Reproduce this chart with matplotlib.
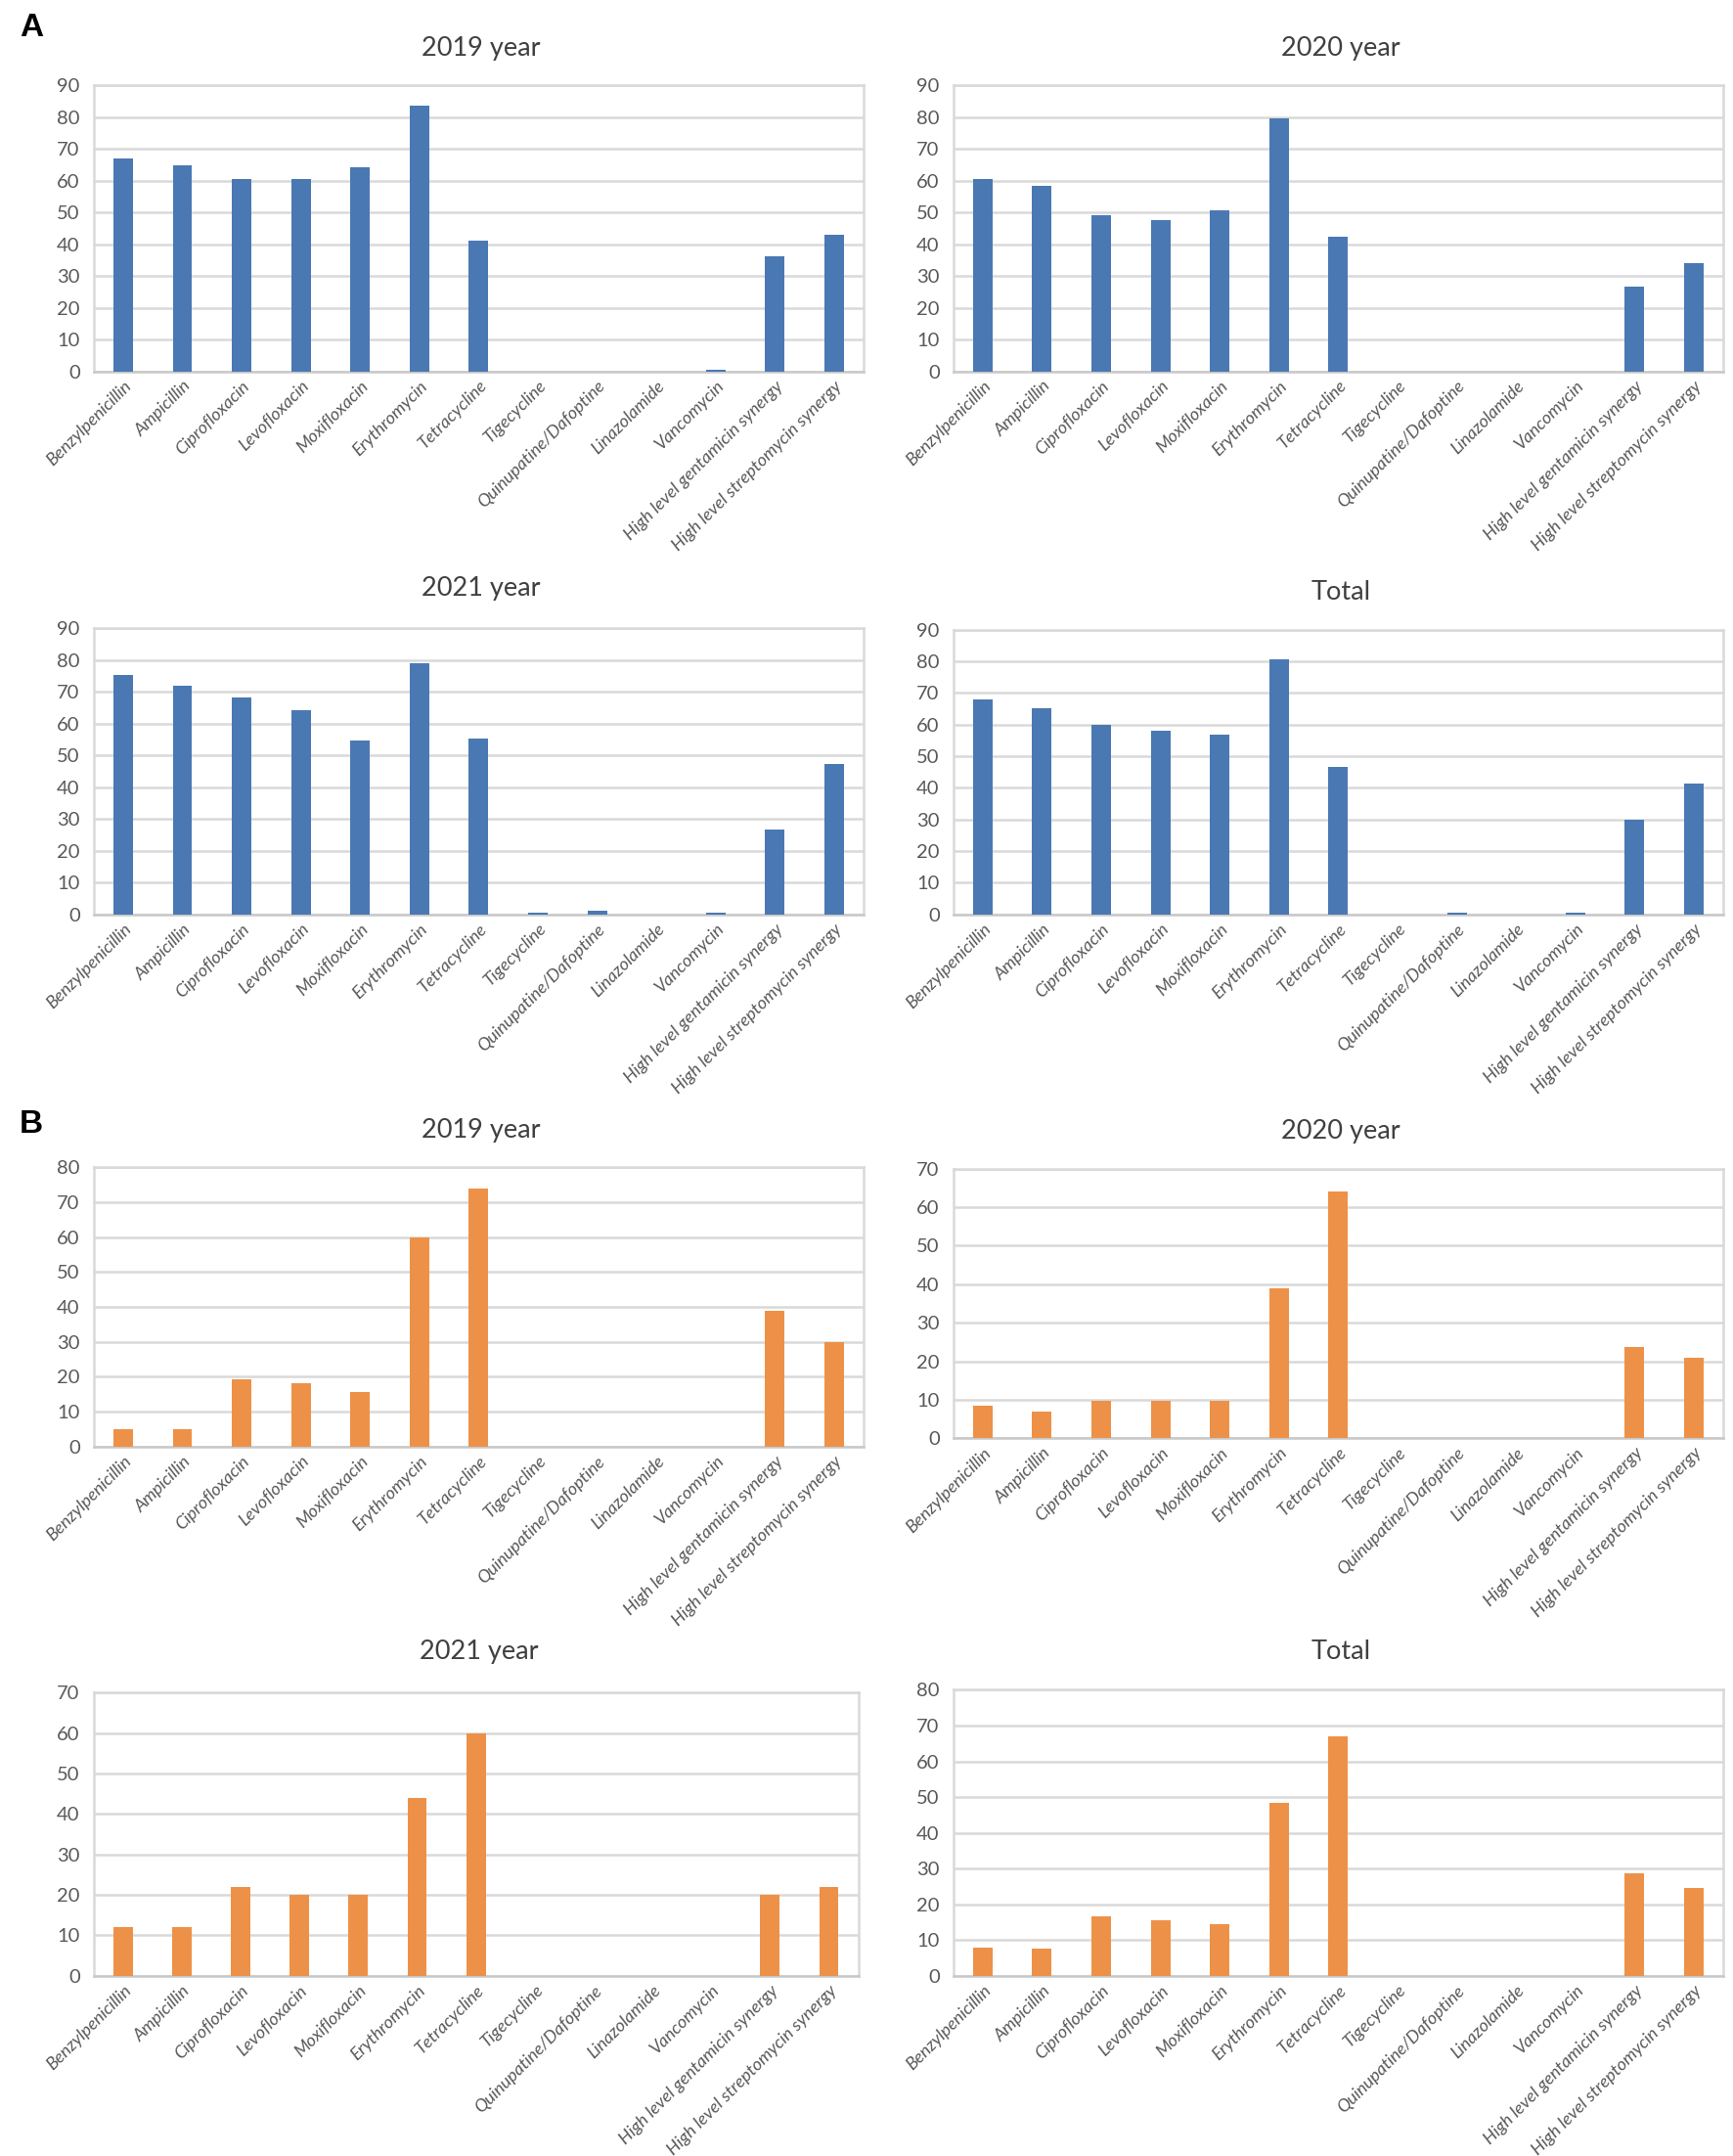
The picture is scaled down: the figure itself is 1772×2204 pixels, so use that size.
import matplotlib
matplotlib.use("Agg")
import matplotlib.pyplot as plt

categories = ["Benzylpenicillin", "Ampicillin", "Ciprofloxacin", "Levofloxacin",
              "Moxifloxacin", "Erythromycin", "Tetracycline", "Tigecycline",
              "Quinupatine/Dafoptine", "Linazolamide", "Vancomycin",
              "High level gentamicin synergy", "High level streptomycin synergy"]

a_2019 = [67.0, 64.9, 60.6, 60.6, 64.2, 83.6, 41.2, 0, 0, 0, 0.6, 36.3, 42.8]
a_2020 = [60.6, 58.3, 49.1, 47.6, 50.7, 79.5, 42.3, 0, 0, 0, 0, 26.5, 34.1]
a_2021 = [75.3, 71.9, 68.4, 64.2, 54.7, 78.9, 55.4, 0.5, 1.1, 0, 0.5, 26.7, 47.2]
a_total = [67.9, 65.3, 59.8, 58.0, 56.7, 80.6, 46.6, 0, 0.5, 0, 0.5, 29.9, 41.5]

b_2019 = [5.0, 5.0, 19.3, 18.2, 15.5, 59.8, 74.0, 0, 0, 0, 0, 38.9, 29.8]
b_2020 = [8.4, 7.0, 9.7, 9.7, 9.7, 38.9, 64.0, 0, 0, 0, 0, 23.7, 20.9]
b_2021 = [12.0, 12.0, 22.0, 20.0, 20.0, 44.0, 60.0, 0, 0, 0, 0, 20.0, 22.0]
b_total = [8.0, 7.6, 16.7, 15.6, 14.6, 48.4, 66.9, 0, 0, 0, 0, 28.7, 24.7]

titles = ["2019 year", "2020 year", "2021 year", "Total"]
ymax_a = [90, 90, 90, 90]
ymax_b = [80, 70, 70, 80]

BLUE = "#4A78B3"
ORANGE = "#EE9148"
GRID = "#D9D9D9"
TXT = "#595959"

plt.rcParams["font.family"] = ["Lato", "DejaVu Sans"]

W, H = 1260.0, 1568.0
fig = plt.figure(figsize=(17.72, 22.04), dpi=100)

# axes boxes in reference display units: (left, right, top, bottom, title_y)
boxes_a = [(68, 628, 62, 270, 35), (693, 1253, 62, 270, 35),
           (68, 628, 457, 665, 428), (693, 1253, 458, 665, 431)]
boxes_b = [(68, 628, 849, 1052, 822), (693, 1253, 850, 1046, 823),
           (68, 624, 1231, 1437, 1201), (693, 1253, 1229, 1437, 1201)]


def draw(box, vals, ymax, title, color):
    l, r, t, b, ty = box
    ax = fig.add_axes([l / W, 1 - b / H, (r - l) / W, (b - t) / H])
    x = list(range(len(categories)))
    ax.bar(x, vals, width=0.33, color=color, zorder=3)
    ax.set_xlim(-0.5, len(categories) - 0.5)
    ax.set_ylim(0, ymax)
    ax.set_yticks(list(range(0, ymax + 1, 10)))
    ax.yaxis.grid(True, color=GRID, linewidth=1.8, zorder=0)
    ax.set_axisbelow(True)
    for s in ax.spines.values():
        s.set_color(GRID)
        s.set_linewidth(1.8)
    ax.spines["bottom"].set_color("#C8C8C8")
    ax.tick_params(axis="both", length=0, colors=TXT, labelsize=14.5)
    ax.tick_params(axis="y", pad=10)
    ax.set_xticks(x)
    ax.set_xticklabels(categories, rotation=45, ha="right",
                       rotation_mode="anchor", fontstyle="italic",
                       fontsize=13, color=TXT)
    ax.tick_params(axis="x", pad=5)
    fig.text(((l + r) / 2 + 2) / W, 1 - ty / H, title, ha="center",
             va="center", fontsize=19.5, color="#404040")
    return ax


for box, vals, ym, tt in zip(boxes_a, [a_2019, a_2020, a_2021, a_total], ymax_a, titles):
    draw(box, vals, ym, tt, BLUE)
for box, vals, ym, tt in zip(boxes_b, [b_2019, b_2020, b_2021, b_total], ymax_b, titles):
    draw(box, vals, ym, tt, ORANGE)

fig.text(14 / W, 1 - 20 / H, "A", fontsize=24, fontweight="bold",
         va="center", ha="left", family=["Liberation Sans", "DejaVu Sans"])
fig.text(14 / W, 1 - 818 / H, "B", fontsize=24, fontweight="bold",
         va="center", ha="left", family=["Liberation Sans", "DejaVu Sans"])

fig.savefig("out.png", dpi=100, facecolor="white")
